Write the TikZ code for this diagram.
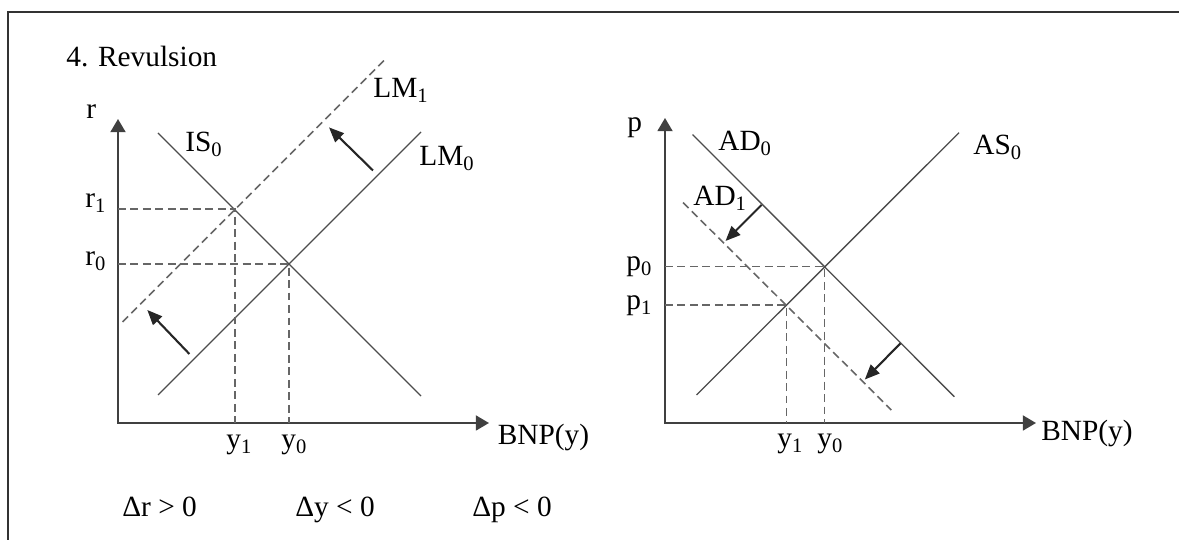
\documentclass[tikz,border=0pt]{standalone}
\usepackage{fontspec}
\setmainfont{Liberation Serif}
\usetikzlibrary{arrows.meta}
\begin{document}
\begin{tikzpicture}[x=0.02cm,y=0.02cm,
  every node/.style={inner sep=0pt,anchor=base west,font=\fontsize{16.7}{20}\selectfont},
  axis/.style={line width=1.2pt,black!75,{Triangle[length=7.5pt,width=8.5pt]}-{Triangle[length=7.5pt,width=8.5pt]}},
  curve/.style={line width=0.75pt,black!70},
  guide/.style={line width=0.9pt,black!60,dash pattern=on 4.5pt off 2.6pt},
  shiftarrow/.style={line width=1.2pt,black!85,-{Triangle[length=8.5pt,width=7pt]}}]
  \useasboundingbox (0,0) rectangle (1179,540);
  \clip (0,0) rectangle (1179,540);
  \draw[line width=1.1pt,black!80] (8,528) rectangle (1200,-20);
  \node (title) at (66,473) {4. Revulsion};
  % IS-LM
  \coordinate (O1) at (118,117);
  \coordinate (rtip) at (118,421);
  \coordinate (ytip) at (489,117);
  \coordinate (IS0a) at (158,407);
  \coordinate (IS0b) at (421,144);
  \coordinate (LM0a) at (158,145);
  \coordinate (LM0b) at (421,408);
  \coordinate (LM1a) at (122.5,218);
  \coordinate (LM1b) at (386.5,482);
  \coordinate (E0) at (289,276);
  \coordinate (E1) at (235,331);
  \coordinate (S1a) at (189.4,186);
  \coordinate (S1b) at (147.3,230);
  \coordinate (S2a) at (373,369.5);
  \coordinate (S2b) at (329,412.6);
  \draw[axis] (rtip) -- (O1) -- (ytip);
  \draw[curve] (IS0a) -- (IS0b);
  \draw[curve] (LM0a) -- (LM0b);
  \draw[guide] (LM1a) -- (LM1b);
  \draw[guide] (O1 |- E1) -- (E1) -- (E1 |- O1);
  \draw[guide] (O1 |- E0) -- (E0) -- (E0 |- O1);
  \draw[shiftarrow] (S1a) -- (S1b);
  \draw[shiftarrow] (S2a) -- (S2b);
  \node (r) at (86,421) {r};
  \node (IS0) at (185,388) {IS\textsubscript{0}};
  \node (LM1) at (373,442.5) {LM\textsubscript{1}};
  \node (LM0) at (419,374) {LM\textsubscript{0}};
  \node (r1) at (85,332) {r\textsubscript{1}};
  \node (r0) at (85,274) {r\textsubscript{0}};
  \node (y1) at (226,91) {y\textsubscript{1}};
  \node (y0) at (281,91) {y\textsubscript{0}};
  \node (BNP1) at (497.5,95) {BNP(y)};
  % AD-AS
  \coordinate (O2) at (665,117);
  \coordinate (ptip) at (665,422);
  \coordinate (ytip2) at (1036,117);
  \coordinate (AD0a) at (692.5,405.5);
  \coordinate (AD0b) at (954.3,143.3);
  \coordinate (AS0a) at (696.5,145);
  \coordinate (AS0b) at (959,407.3);
  \coordinate (AD1a) at (683,337.5);
  \coordinate (AD1b) at (891.3,130);
  \coordinate (E2) at (824.5,273.3);
  \coordinate (E3) at (786.5,235);
  \coordinate (S3a) at (761.5,335);
  \coordinate (S3b) at (725.5,299);
  \coordinate (S4a) at (900.5,196.7);
  \coordinate (S4b) at (864.8,160.5);
  \draw[axis] (ptip) -- (O2) -- (ytip2);
  \draw[curve] (AD0a) -- (AD0b);
  \draw[curve] (AS0a) -- (AS0b);
  \draw[guide] (AD1a) -- (AD1b);
  \draw[guide] (O2 |- E2) -- (E2) -- (E2 |- O2);
  \draw[guide] (O2 |- E3) -- (E3) -- (E3 |- O2);
  \draw[shiftarrow] (S3a) -- (S3b);
  \draw[shiftarrow] (S4a) -- (S4b);
  \node (p) at (627,408.7) {p};
  \node (AD0) at (718,389) {AD\textsubscript{0}};
  \node (AD1) at (693,334) {AD\textsubscript{1}};
  \node (AS0) at (973,385.5) {AS\textsubscript{0}};
  \node (p0) at (626,269) {p\textsubscript{0}};
  \node (p1) at (626,230) {p\textsubscript{1}};
  \node (y1b) at (777,92) {y\textsubscript{1}};
  \node (y0b) at (817,92) {y\textsubscript{0}};
  \node (BNP2) at (1041,99.3) {BNP(y)};
  % changes
  \node (dr) at (122,23.3) {Δr > 0};
  \node (dy) at (295,23.3) {Δy < 0};
  \node (dp) at (472,23.3) {Δp < 0};
\end{tikzpicture}
\end{document}
